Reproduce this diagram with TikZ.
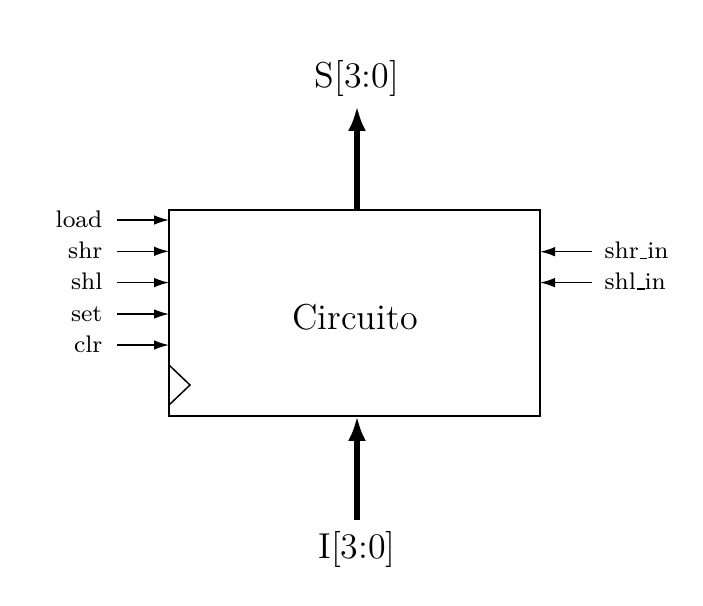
\documentclass[tikz,border=0pt]{standalone}
\usetikzlibrary{arrows.meta}
\newcommand{\usc}{\leavevmode\kern.06em\vbox{\hrule width.3em}}
\begin{document}
\begin{tikzpicture}[x=0.33333pt,y=-0.33333pt,
  thinarrow/.style={line width=0.5pt,-{Latex[length=5pt,width=3.2pt]}},
  thickarrow/.style={line width=1.7pt,-{Latex[length=8.3pt,width=6pt]}},
  sig/.style={inner sep=0pt,font=\footnotesize},
  bus/.style={inner sep=0pt,font=\large}]
\useasboundingbox (0,0) rectangle (703,605);
\draw[line width=0.5pt] (169,210) rectangle (540,416);
\coordinate (boxtop) at (357,210);
\coordinate (boxbot) at (357,416);
\node[bus] (circ) at (355,317) {Circuito};
\draw[line width=0.5pt] (169,365) -- (190,385) -- (169,405);
% top output
\coordinate (outstart) at (357,106);
\node[bus,anchor=base] (S) at (357,87) {S[3:0]};
\draw[thickarrow] (boxtop) -- (outstart);
% bottom input
\coordinate (instart) at (357,520);
\node[bus,anchor=base] (I) at (357,558) {I[3:0]};
\draw[thickarrow] (instart) -- (boxbot);
% left signals
\foreach \name/\y in {load/220,shr/251.3,shl/282.6,set/314,clr/345}{
  \node[sig,anchor=base east] (l\name) at (103,\y+7) {\name};
  \coordinate (s\name) at (117,\y);
  \coordinate (e\name) at (169,\y);
  \draw[thinarrow] (s\name) -- (e\name);
}
% right signals
\foreach \name/\lab/\y in {shrin/shr\usc in/251.7,shlin/shl\usc in/282.6}{
  \node[sig,anchor=base west] (r\name) at (604,\y+7) {\lab};
  \coordinate (s\name) at (592,\y);
  \coordinate (e\name) at (540,\y);
  \draw[thinarrow] (s\name) -- (e\name);
}
\end{tikzpicture}
\end{document}
